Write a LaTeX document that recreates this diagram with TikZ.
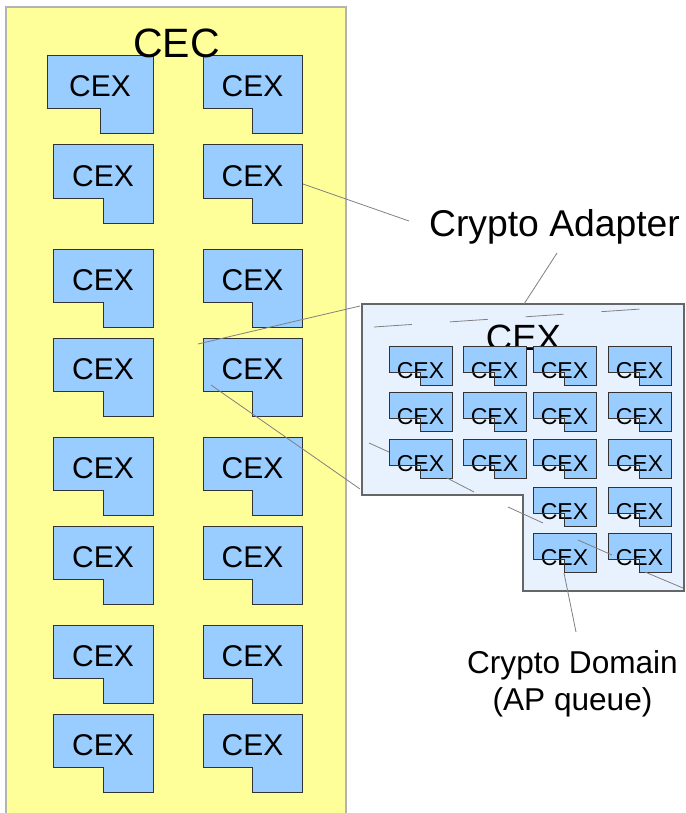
\documentclass[tikz,border=0pt]{standalone}
\usepackage{fontspec}
\setmainfont{Liberation Sans}

\definecolor{cecyellow}{HTML}{FFFF99}
\definecolor{cecedge}{HTML}{B3B3B3}
\definecolor{cexblue}{HTML}{99CCFF}
\definecolor{cexedge}{HTML}{333333}
\definecolor{adapterfill}{HTML}{E8F2FE}
\definecolor{adapteredge}{HTML}{666666}
\definecolor{leader}{HTML}{808080}

\tikzset{
  cexshape/.style={fill=cexblue, draw=cexedge, line width=1pt},
  leaderline/.style={draw=leader, line width=0.8pt},
  bigcexlabel/.style={inner sep=0pt, anchor=base, font=\fontsize{30}{36}\selectfont},
  smallcexlabel/.style={inner sep=0pt, anchor=base, font=\fontsize{23}{27}\selectfont},
  % large L-shaped CEX card; argument = width
  pics/bigcex/.style={code={
    \draw[cexshape] (0,0) -- (#1,0) -- (#1,78) -- ({#1/2},78) -- ({#1/2},53) -- (0,53) -- cycle;
    \node[bigcexlabel] (-label) at ({#1/2},41) {CEX};
  }},
  pics/bigcex/.default=100,
  % small L-shaped CEX card inside the adapter
  pics/smallcex/.style={code={
    \fill[cexblue] (0,0) -- (63,0) -- (63,39) -- (31,39) -- (31,26) -- (0,26) -- cycle;
    \node[smallcexlabel] (-label) at (31.5,32) {CEX};
    \draw[draw=cexedge, line width=0.9pt] (0,0) -- (63,0) -- (63,39) -- (31,39) -- (31,26) -- (0,26) -- cycle;
  }},
}

\begin{document}
\begin{tikzpicture}[x=1pt, y=-1pt]
\useasboundingbox (0,0) rectangle (685,813);
\clip (0,0) rectangle (685,813);

% CEC frame
\draw[fill=cecyellow, draw=cecedge, line width=1.6pt] (6,7) rectangle (346,830);

% CEX cards of the CEC
\pic (L1) at (47,56) {bigcex=106};
\pic (R1) at (203,56) {bigcex=99};
\foreach \r/\y in {2/145,3/249,4/338,5/437,6/526,7/625,8/714}{
  \pic (L\r) at (53,\y) {bigcex};
  \pic (R\r) at (203,\y) {bigcex=99};
}

\node[inner sep=0pt, anchor=base, font=\fontsize{41}{48}\selectfont] (cec) at (176.5,57.5) {CEC};

% leader lines over the CEC
\coordinate (a1) at (303,184);
\coordinate (a2) at (409,221);
\coordinate (b1) at (198,344);
\coordinate (b2) at (360,306);
\coordinate (c1) at (211,385);
\coordinate (c2) at (360,489);
\draw[leaderline] (a1) -- (a2);
\draw[leaderline] (b1) -- (b2);
\draw[leaderline] (c1) -- (c2);

% zoomed-in crypto adapter
\draw[fill=adapterfill, draw=adapteredge, line width=1.4pt]
  (362,304) -- (684,304) -- (684,591) -- (523,591) -- (523,495) -- (362,495) -- cycle;
\coordinate (d1) at (374,327);
\coordinate (d2) at (641,309);
\draw[leaderline, dash pattern=on 38pt off 38pt] (d1) -- (d2);
\node[inner sep=0pt, anchor=base, font=\fontsize{36.5}{44}\selectfont] (adaptercex) at (523.5,350) {CEX};

\coordinate (e1) at (369,443);
\coordinate (e2) at (389,452);
\draw[leaderline] (e1) -- (e2);

% crypto domains
\foreach \c/\x in {1/389,2/463,3/533,4/608}{
  \foreach \r/\y in {1/346,2/392,3/439}{
    \pic (q\r\c) at (\x,\y) {smallcex};
  }
}
\foreach \c/\x in {3/533,4/608}{
  \foreach \r/\y in {4/487,5/533}{
    \pic (q\r\c) at (\x,\y) {smallcex};
  }
}

\coordinate (e3) at (447,478);
\coordinate (e4) at (474,492);
\coordinate (e5) at (508,507);
\coordinate (e6) at (543,523);
\coordinate (e7) at (578,540);
\coordinate (e8) at (612,555);
\coordinate (e9) at (645,572);
\coordinate (e10) at (683,588);
\draw[leaderline] (e3) -- (e4);
\draw[leaderline] (e5) -- (e6);
\draw[leaderline] (e7) -- (e8);
\draw[leaderline] (e9) -- (e10);

% labels
\node[inner sep=0pt, anchor=base, font=\fontsize{37.3}{44}\selectfont] (adapter) at (554.5,236) {Crypto Adapter};
\coordinate (f1) at (557,253);
\coordinate (f2) at (524,304);
\draw[leaderline] (f1) -- (f2);

\node[inner sep=0pt, anchor=base, font=\fontsize{31.6}{37}\selectfont] (domain) at (572.5,673) {Crypto Domain};
\node[inner sep=0pt, anchor=base, font=\fontsize{31.6}{37}\selectfont] (apqueue) at (572.5,710) {(AP queue)};
\coordinate (g1) at (564,573);
\coordinate (g2) at (576,632);
\draw[leaderline] (g1) -- (g2);
\end{tikzpicture}
\end{document}
